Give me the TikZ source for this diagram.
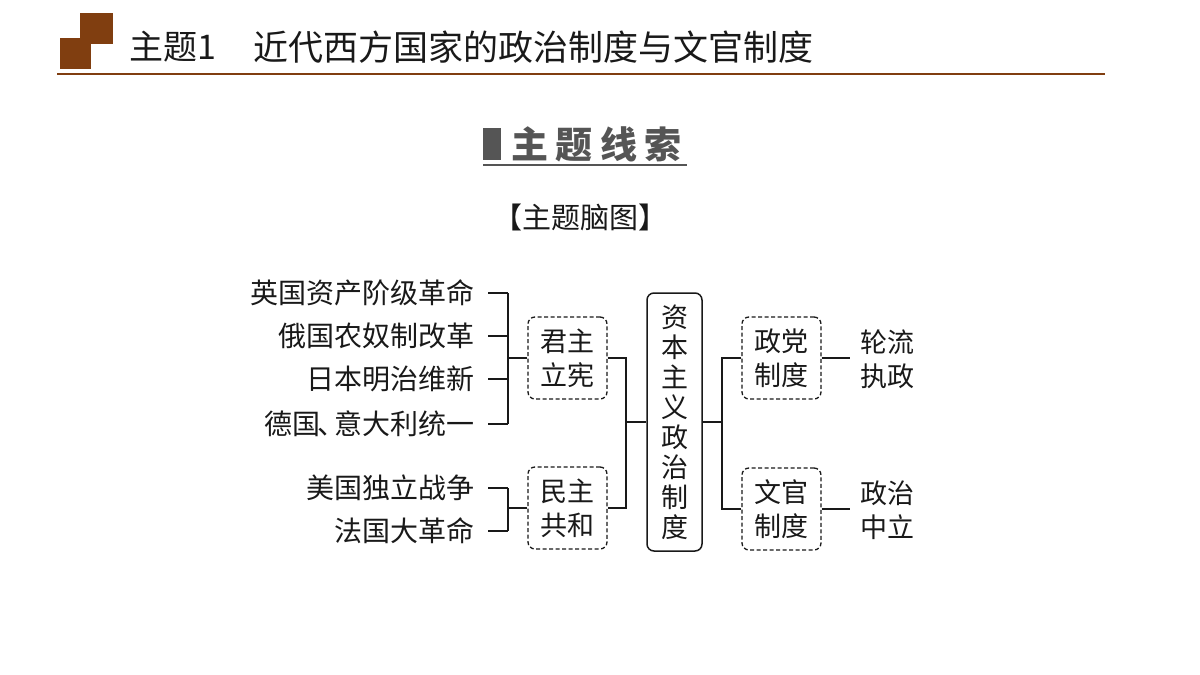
\documentclass[tikz,border=0pt]{standalone}
\usepackage{fontspec}
\setmainfont{Noto Sans CJK SC}
\usetikzlibrary{positioning}
\definecolor{brn}{RGB}{128,62,16}
\definecolor{ink}{RGB}{25,25,25}
\definecolor{gry}{RGB}{85,85,85}
\tikzset{
  lbl/.style={inner sep=0pt, text=ink, font=\fontsize{28}{30}\selectfont},
  two/.style={inner sep=0pt, text=ink, align=center, font=\fontsize{27}{34}\selectfont},
  dbox/.style={draw=ink, line width=1.3pt, dash pattern=on 4pt off 2.5pt, rounded corners=7pt, minimum width=79pt, minimum height=82pt, inner sep=0pt, align=center, text=ink, font=\fontsize{27}{34}\selectfont},
  cbox/.style={draw=ink, line width=1.5pt, rounded corners=7pt, minimum width=55pt, minimum height=258pt, inner sep=0pt, align=center, text=ink, font=\fontsize{27}{30}\selectfont},
  conn/.style={draw=ink, line width=1.5pt}
}
\begin{document}
\begin{tikzpicture}[x=1pt,y=-1pt]
\useasboundingbox (0,0) rectangle (1200,675);
% header
\fill[brn] (80,13) rectangle (113,44);
\fill[brn] (60,38) rectangle (91,69);
\draw[brn, line width=2pt] (57,74) -- (1105,74);
\node[anchor=west, inner sep=0pt, text=ink, font=\fontsize{34}{36}\selectfont] (t1) at (129,47) {主题1};
\node[anchor=west, inner sep=0pt, text=ink, font=\fontsize{35}{38}\selectfont] (t2) at (253,47) {近代西方国家的政治制度与文官制度};
% section title
\fill[gry] (483,128) rectangle (501,160);
\node[anchor=west, inner sep=0pt, text=gry, font=\fontsize{37}{40}\selectfont\bfseries] (sec) at (511,144) {主\hspace{7.5pt}题\hspace{7.5pt}线\hspace{7.5pt}索};
\draw[gry, line width=1.5pt] (483,165) -- (687,165);
\node[inner sep=0pt, text=ink, font=\fontsize{29}{30}\selectfont] (sub) at (580,217) {【主题脑图】};
% left items
\node[lbl, anchor=east] (a1) at (475,293) {英国资产阶级革命};
\node[lbl, anchor=east] (a2) at (475,336) {俄国农奴制改革};
\node[lbl, anchor=east] (a3) at (475,379) {日本明治维新};
\node[lbl, anchor=east] (a4) at (475,424) {德国\hspace{-3pt}、\hspace{-11pt}意大利统一};
\node[lbl, anchor=east] (b1) at (475,488) {美国独立战争};
\node[lbl, anchor=east] (b2) at (475,531) {法国大革命};
% boxes
\node[dbox] (jz) at (567.5,358) {君主\\立宪};
\node[dbox] (mz) at (567.5,508) {民主\\共和};
\node[cbox] (zb) at (674.5,422) {资\\本\\主\\义\\政\\治\\制\\度};
\node[dbox] (zd) at (781.5,358) {政党\\制度};
\node[dbox] (wg) at (781.5,509) {文官\\制度};
\node[two] (lz) at (887,359) {轮流\\执政};
\node[two] (zz) at (887,510) {政治\\中立};
% connector coordinates
\coordinate (lx) at (508,0);
\coordinate (mx) at (626,0);
\coordinate (rx) at (722,0);
\coordinate (cx) at (850,0);
% left bracket 1
\foreach \n in {a1,a2,a3,a4}{
  \draw[conn] ([xshift=13pt]\n.east) -- (lx |- \n.east);
}
\draw[conn] (lx |- a1.east) -- (lx |- a4.east);
\draw[conn] (lx |- jz.west) -- (jz.west);
% left bracket 2
\foreach \n in {b1,b2}{
  \draw[conn] ([xshift=13pt]\n.east) -- (lx |- \n.east);
}
\draw[conn] (lx |- b1.east) -- (lx |- b2.east);
\draw[conn] (lx |- mz.west) -- (mz.west);
% middle bracket
\draw[conn] (jz.east) -- (mx |- jz.east) -- (mx |- mz.east) -- (mz.east);
\draw[conn] (mx |- zb.west) -- (zb.west);
% right bracket
\draw[conn] (zb.east) -- (rx |- zb.east);
\draw[conn] (zd.west) -- (rx |- zd.west) -- (rx |- wg.west) -- (wg.west);
\draw[conn] (zd.east) -- (cx |- zd.east);
\draw[conn] (wg.east) -- (cx |- wg.east);
\end{tikzpicture}
\end{document}
